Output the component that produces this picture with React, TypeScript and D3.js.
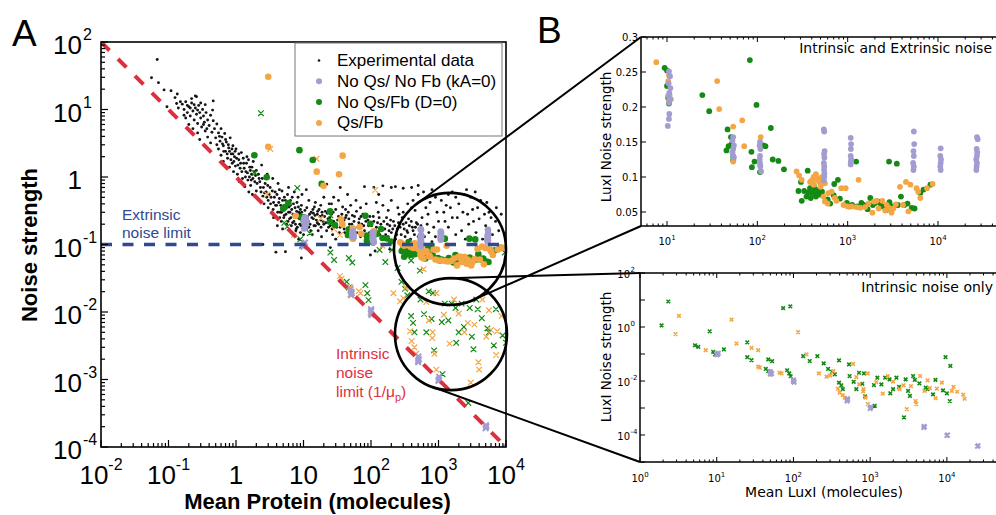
import React from "react";
import * as d3 from "d3";

type P = [number, number];

// ---------- DATA (mean, noise strength) ----------
const experimentalData: P[] = [
  [0.056, 29.5], [0.068, 55], [0.071, 25], [0.086, 19.5], [0.109, 19], [0.125, 15], [0.132, 12.3], [0.14, 10.5], [0.115, 8.5], [0.15, 13], [0.095, 11], [0.135, 17],
  [0.16, 12], [0.17, 10], [0.18, 13], [0.19, 9], [0.2, 11], [0.21, 8], [0.22, 12.5], [0.23, 9.5], [0.24, 7], [0.25, 10.5], [0.26, 8.5], [0.27, 6.2], [0.28, 11.5], [0.29, 9], [0.3, 7.5], [0.31, 5.5], [0.32, 10], [0.33, 8], [0.34, 6.5], [0.35, 4.8], [0.36, 9], [0.38, 7], [0.4, 5.8], [0.42, 8.2], [0.44, 4.6], [0.46, 6.8], [0.48, 5.2], [0.5, 3.8], [0.18, 7.5], [0.2, 6], [0.23, 5.2], [0.27, 4.5], [0.3, 12.5], [0.22, 14.5], [0.26, 15.5], [0.35, 11.8], [0.45, 9.8], [0.52, 6.1], [0.17, 8.2], [0.38, 3.9], [0.42, 3.2], [0.29, 3.6], [0.25, 15.9], [0.46, 13.4], [0.21, 10.5], [0.24, 11.8], [0.27, 9.8], [0.33, 6], [0.37, 5.2], [0.19, 11.5],
  [0.55, 4.5], [0.55, 2.6], [0.58, 3.4], [0.6, 5.2], [0.6, 2.1], [0.62, 3.9], [0.65, 2.9], [0.65, 1.7], [0.68, 4.4], [0.7, 2.4], [0.72, 3.3], [0.75, 1.9], [0.78, 2.7], [0.8, 1.4], [0.82, 3.8], [0.85, 2.2], [0.88, 1.6], [0.9, 2.9], [0.92, 1.2], [0.95, 2.0], [0.98, 1.45], [1.0, 2.6], [1.05, 1.1], [1.1, 1.8], [1.12, 0.85], [1.15, 1.35], [1.2, 2.3], [1.25, 0.95], [1.3, 1.6], [1.35, 0.72], [1.4, 1.2], [1.45, 2.0], [1.5, 0.9], [1.55, 0.6], [1.6, 1.4], [1.65, 0.75], [1.7, 1.1], [1.75, 0.55], [1.8, 1.7], [1.9, 0.85], [2.0, 0.62], [2.0, 1.25], [2.1, 0.48], [2.2, 0.95], [2.3, 0.7], [2.4, 1.5], [2.5, 0.52], [2.6, 0.4], [2.7, 0.8], [2.8, 0.6], [2.9, 1.1], [3.0, 0.45], [3.0, 0.35],
  [0.52, 3.0], [0.57, 4.0], [0.63, 3.1], [0.66, 2.4], [0.7, 3.6], [0.74, 2.2], [0.77, 3.0], [0.8, 2.4], [0.84, 1.8], [0.87, 2.6], [0.9, 2.2], [0.93, 1.7], [0.97, 2.4], [1.02, 1.9], [1.07, 1.5], [1.1, 2.2], [1.17, 1.6], [1.22, 1.2], [1.28, 1.9], [1.32, 1.35], [1.38, 1.0], [1.43, 1.6], [1.48, 1.15], [1.53, 1.8], [1.58, 1.0], [1.63, 1.25], [1.68, 0.9], [1.72, 1.4], [1.78, 0.95], [1.85, 1.2], [1.95, 1.05], [2.05, 0.8], [2.15, 1.1], [2.25, 0.85], [2.35, 0.6], [2.45, 0.95], [2.55, 0.7], [2.65, 0.58], [2.75, 0.95], [2.85, 0.5], [2.95, 0.75],
  [3.2, 0.7], [3.3, 0.5], [3.4, 0.3], [3.5, 0.95], [3.6, 0.42], [3.8, 0.6], [3.9, 0.26], [4.0, 0.38], [4.2, 0.8], [4.4, 0.48], [4.5, 0.3], [4.7, 0.22], [4.8, 0.62], [5.0, 0.36], [5.2, 0.27], [5.4, 0.45], [5.6, 0.2], [5.8, 0.55], [6.0, 0.3], [6.2, 0.24], [6.4, 0.38], [3.6, 0.25], [4.1, 0.19], [4.9, 0.17],
  [3.1, 0.55], [3.25, 0.4], [3.45, 0.62], [3.55, 0.33], [3.7, 0.5], [3.85, 0.38], [4.05, 0.55], [4.15, 0.3], [4.3, 0.42], [4.45, 0.25], [4.6, 0.38], [4.75, 0.3], [4.9, 0.45], [5.1, 0.25], [5.3, 0.33], [5.5, 0.28], [5.7, 0.38], [5.9, 0.22], [6.1, 0.36], [6.3, 0.3], [6.5, 0.25], [6.7, 0.33], [6.9, 0.21], [7.1, 0.4], [7.4, 0.26], [7.6, 0.2], [7.9, 0.31], [8.1, 0.18], [8.4, 0.36], [8.7, 0.24], [8.9, 0.28], [9.2, 0.19], [9.4, 0.3], [9.8, 0.24], [5.2, 0.5], [6.4, 0.45], [8.3, 0.5], [4.4, 0.65], [7.7, 0.16],
  [6.6, 0.19], [6.8, 0.5], [7.0, 0.28], [7.2, 0.22], [7.5, 0.35], [7.8, 0.17], [8.0, 0.42], [8.2, 0.25], [8.5, 0.3], [8.8, 0.2], [9.0, 0.15], [9.3, 0.38], [9.6, 0.27], [10, 0.22], [10.5, 0.32], [11, 0.17], [11.5, 0.26], [12, 0.45], [12.5, 0.2], [13, 0.3], [13.5, 0.14], [14, 0.24], [14.5, 0.36], [15, 0.19], [16, 0.28], [16.5, 0.16], [17, 0.33], [18, 0.23], [18.5, 0.13], [19, 0.27], [20, 0.2], [7.3, 0.6], [9.5, 0.55], [11, 0.65], [6.0, 0.7], [8.5, 0.12], [10, 0.14], [12, 0.18], [14, 0.29], [16, 0.21], [9, 0.33], [7, 0.14],
  [10.3, 0.27], [10.8, 0.2], [11.2, 0.35], [11.8, 0.22], [12.3, 0.28], [12.8, 0.16], [13.3, 0.25], [13.8, 0.33], [14.3, 0.19], [14.8, 0.27], [15.5, 0.23], [16.2, 0.31], [16.8, 0.2], [17.5, 0.26], [18.2, 0.18], [18.8, 0.3], [19.5, 0.22], [20.5, 0.26], [21.5, 0.21], [22.5, 0.29], [23.5, 0.18], [24.5, 0.25], [25.5, 0.22], [26.5, 0.17], [27.5, 0.3], [29, 0.2], [32, 0.23], [35, 0.18], [37, 0.28], [39, 0.2], [41, 0.15], [43, 0.27], [47, 0.24], [52, 0.2], [57, 0.26], [62, 0.15], [66, 0.21], [71, 0.26], [78, 0.19], [82, 0.25], [90, 0.23], [95, 0.15], [15, 0.42], [18, 0.38], [26, 0.4], [33, 0.45], [50, 0.38], [70, 0.35], [42, 0.33], [20, 0.5],
  [21, 0.31], [22, 0.16], [23, 0.24], [24, 0.4], [25, 0.19], [26, 0.28], [27, 0.14], [28, 0.22], [30, 0.33], [31, 0.18], [33, 0.26], [34, 0.15], [36, 0.21], [38, 0.36], [40, 0.17], [42, 0.25], [44, 0.13], [46, 0.3], [48, 0.2], [50, 0.16], [53, 0.27], [56, 0.22], [58, 0.14], [61, 0.31], [64, 0.18], [67, 0.24], [70, 0.13], [73, 0.2], [76, 0.28], [80, 0.16], [84, 0.22], [88, 0.12], [92, 0.19], [96, 0.26], [28, 0.5], [45, 0.55], [60, 0.45], [35, 0.7], [85, 0.4], [22, 0.78], [25, 0.09], [30, 0.12], [40, 0.23], [55, 0.18],
  [105, 0.15], [110, 0.22], [115, 0.13], [120, 0.18], [128, 0.3], [135, 0.14], [140, 0.2], [150, 0.12], [160, 0.17], [170, 0.25], [180, 0.13], [190, 0.19], [200, 0.15], [215, 0.22], [230, 0.12], [245, 0.17], [260, 0.28], [280, 0.14], [300, 0.2], [320, 0.13], [340, 0.16], [360, 0.24], [385, 0.12], [410, 0.18], [440, 0.14], [470, 0.21], [500, 0.13], [530, 0.16], [570, 0.25], [150, 0.38], [200, 0.45], [130, 0.55], [250, 0.35], [350, 0.4], [450, 0.32], [80, 0.72], [110, 0.7], [150, 0.74], [200, 0.7], [230, 0.72], [300, 0.68], [400, 0.7], [115, 0.08], [190, 0.085], [98, 0.07],
  [102, 0.19], [108, 0.26], [118, 0.16], [125, 0.21], [132, 0.25], [145, 0.17], [155, 0.22], [165, 0.14], [175, 0.2], [185, 0.16], [195, 0.23], [210, 0.17], [225, 0.19], [240, 0.14], [255, 0.21], [270, 0.18], [290, 0.25], [310, 0.17], [330, 0.21], [350, 0.15], [370, 0.19], [395, 0.22], [420, 0.16], [455, 0.18], [490, 0.2], [520, 0.14], [550, 0.19], [300, 0.3], [180, 0.32], [120, 0.42], [400, 0.35],
  [620, 0.13], [680, 0.2], [720, 0.15], [800, 0.11], [850, 0.18], [900, 0.13], [1000, 0.22], [1100, 0.14], [1200, 0.3], [1300, 0.12], [1400, 0.18], [1600, 0.25], [1800, 0.14], [2000, 0.4], [2200, 0.16], [2500, 0.12], [2800, 0.2], [3200, 0.33], [3600, 0.15], [4000, 0.24], [4500, 0.12], [5000, 0.19], [5600, 0.3], [6300, 0.14], [7000, 0.22], [7800, 0.16], [650, 0.35], [900, 0.5], [1100, 0.45], [1600, 0.6], [2400, 0.55], [3000, 0.5], [750, 0.42], [4200, 0.45], [600, 0.6], [500, 0.55], [420, 0.45], [1300, 0.38],
  [700, 0.28], [950, 0.3], [1250, 0.22], [1500, 0.35], [1900, 0.25], [2300, 0.3], [2700, 0.28], [3300, 0.22], [3800, 0.35], [4800, 0.28], [5200, 0.42], [6000, 0.25], [7200, 0.35], [8500, 0.28], [800, 0.65], [1400, 0.55], [2600, 0.65], [3500, 0.6], [500, 0.75], [1800, 0.5],
  [2.5, 0.1], [3.9, 0.077], [5.4, 0.078], [9.3, 0.063],
];

const noQsNoFbExtrinsic: P[] = [
  [10.5, 0.251], [10.8, 0.244], [10.4, 0.234], [10.9, 0.227], [10.6, 0.22], [10.3, 0.216], [11, 0.211], [10.5, 0.206], [10.6, 0.19], [10.5, 0.183], [10.2, 0.173],
  [54, 0.157], [53, 0.152], [55, 0.145], [54, 0.14], [53, 0.135], [54, 0.13], [55, 0.128],
  [107, 0.15], [106, 0.145], [108, 0.14], [107, 0.13], [106, 0.125], [107, 0.12], [108, 0.115], [110, 0.108],
  [545, 0.168], [550, 0.165], [555, 0.137], [548, 0.133], [552, 0.128], [545, 0.12], [550, 0.115], [548, 0.11], [553, 0.105], [550, 0.1], [545, 0.095],
  [1080, 0.156], [1090, 0.147], [1085, 0.14], [1080, 0.13], [1095, 0.125], [1085, 0.122], [1080, 0.118],
  [5400, 0.165], [5450, 0.147], [5350, 0.137], [5400, 0.13], [5300, 0.12], [5400, 0.115], [5350, 0.11],
  [10700, 0.141], [10600, 0.13], [10800, 0.125], [10700, 0.12], [10600, 0.115], [10700, 0.11],
  [27000, 0.157], [27500, 0.154], [26800, 0.14], [27200, 0.135], [27000, 0.13], [26500, 0.125], [27000, 0.12], [26800, 0.115], [26600, 0.11],
];

const noQsFbExtrinsic: P[] = [
  [9.4, 0.256], [10, 0.252], [10, 0.23], [10.3, 0.213], [10.5, 0.205], [24.6, 0.217], [29.3, 0.194], [82.6, 0.267], [97.8, 0.203], [141, 0.17], [46.8, 0.168], [51, 0.157], [45.5, 0.138], [48, 0.144], [51.8, 0.147], [54, 0.129], [54, 0.124], [86, 0.136], [87, 0.114], [93, 0.122], [107, 0.107], [116, 0.145], [123, 0.144], [148, 0.125], [171, 0.123], [197, 0.111],
  [361, 0.109], [304, 0.093], [285, 0.08], [310, 0.066], [350, 0.072], [383, 0.084], [410, 0.077], [430, 0.083], [445, 0.072], [468, 0.081], [520, 0.079], [780, 0.096], [710, 0.09], [700, 0.074], [820, 0.069], [980, 0.063], [1120, 0.06], [1240, 0.122], [1270, 0.058], [1420, 0.063], [1660, 0.054], [1780, 0.07], [1900, 0.06], [2150, 0.065], [2410, 0.058], [2680, 0.053], [2870, 0.122], [2900, 0.064], [3220, 0.058], [3500, 0.119], [3890, 0.072], [4230, 0.06], [5120, 0.056], [6370, 0.077], [6920, 0.082], [8240, 0.089],
  [330, 0.08], [370, 0.078], [390, 0.07], [420, 0.088], [455, 0.076], [490, 0.075], [600, 0.068], [640, 0.062], [1050, 0.058], [1500, 0.06], [2000, 0.063], [2300, 0.062], [3000, 0.058], [3600, 0.06], [4600, 0.062], [5500, 0.055],
  [1.87, 2.1], [2.85, 0.99], [5.96, 0.41], [5.3, 0.36], [8.7, 2.5], [13.7, 1.79], [18.6, 0.79], [24.7, 0.31], [5.0, 0.34],
];

const qsFbExtrinsic: P[] = [
  [7.6, 0.264], [10.3, 0.237], [10.5, 0.245], [10.7, 0.216], [10.5, 0.209], [35.9, 0.237], [37.8, 0.197], [54, 0.172], [68, 0.181], [71.5, 0.144], [54, 0.122], [109, 0.157], [107, 0.117],
  [272, 0.108], [290, 0.102], [310, 0.096], [384, 0.093], [420, 0.1], [445, 0.104], [455, 0.096], [485, 0.093], [520, 0.1], [500, 0.086], [560, 0.091], [420, 0.089], [540, 0.072], [560, 0.065], [610, 0.077], [665, 0.079], [720, 0.07], [850, 0.084], [950, 0.084], [1110, 0.058], [1320, 0.096], [1380, 0.056], [1560, 0.057], [1880, 0.049], [1960, 0.065], [2090, 0.066], [2420, 0.066], [2700, 0.06], [3010, 0.053], [3060, 0.049], [3420, 0.061], [3790, 0.086], [4420, 0.093], [4700, 0.051], [4950, 0.089], [5790, 0.084], [6030, 0.079], [6380, 0.07], [7570, 0.084], [8710, 0.09],
  [400, 0.095], [470, 0.098], [510, 0.09], [600, 0.062], [750, 0.066], [900, 0.06], [1000, 0.058], [1250, 0.057], [1700, 0.062], [2200, 0.055], [2600, 0.052], [2800, 0.057], [3200, 0.055], [4100, 0.06],
  [3.0, 30.6], [3.0, 2.8], [38, 2.07], [15.7, 1.2], [33.6, 1.1], [19.8, 0.74],
];

const noQsNoFbIntrinsic: P[] = [
  [10, 0.093], [10, 0.1], [10.5, 0.107], [10.3, 0.097],
  [50, 0.018], [51, 0.02], [50, 0.022], [52, 0.019],
  [100, 0.0095], [101, 0.0105], [102, 0.009], [100, 0.011],
  [500, 0.0019], [510, 0.002], [505, 0.0022], [500, 0.0018],
  [1000, 0.00095], [1010, 0.001], [1020, 0.0011],
  [5000, 0.00019], [5100, 0.0002], [5050, 0.00021],
  [10000, 0.000095], [10200, 0.0001],
  [25000, 0.000038], [25500, 0.00004],
];

const noQsFbIntrinsic: P[] = [
  [1.91, 1.15], [2.34, 8.8], [8.1, 0.69], [5.2, 0.21], [5.75, 0.184], [9.0, 0.12], [9.5, 0.096], [12.4, 0.147], [25, 0.27], [25, 0.076], [28.4, 0.059], [47, 0.063], [52.8, 0.054], [43.6, 0.028], [47, 0.023], [73.4, 5.0], [91, 5.8], [82.7, 0.025], [88, 0.019], [92, 0.015],
  [134, 0.083], [163, 0.055], [205, 0.083], [248, 0.045], [283, 0.028], [320, 0.022], [346, 0.0177], [393, 0.058], [393, 0.0087], [420, 0.0069], [440, 0.005], [530, 0.041], [540, 0.0153], [610, 0.0093], [660, 0.005], [715, 0.0202], [790, 0.0079], [830, 0.0191], [860, 0.0027],
  [1146, 0.0012], [1120, 0.0071], [1240, 0.0133], [1400, 0.0075], [1570, 0.0133], [1790, 0.0115], [1830, 0.0035], [1990, 0.005], [2200, 0.0133], [2380, 0.006], [2760, 0.00045], [2900, 0.0115], [3120, 0.0043], [3300, 0.0028], [3630, 0.0153], [3820, 0.011], [4380, 0.0081], [5300, 0.0057], [5600, 0.005], [6600, 0.0032], [7100, 0.011], [8900, 0.0045], [9600, 0.076], [10000, 0.0035], [10900, 0.0018], [11100, 0.036],
];

const qsFbIntrinsic: P[] = [
  [2.91, 0.55], [3.22, 2.6], [7.2, 0.138], [15.6, 1.86], [18.1, 0.244], [28.4, 0.169], [34.7, 0.138], [34.7, 0.034], [36.5, 0.031], [49.2, 0.0233], [51.5, 0.0176], [66, 0.0203], [70, 0.019], [99, 0.01], [115, 0.64], [148, 0.096],
  [215, 0.019], [270, 0.0144], [302, 0.016], [330, 0.023], [380, 0.0052], [400, 0.0037], [440, 0.003], [465, 0.0024], [600, 0.043], [660, 0.014], [720, 0.0075], [820, 0.005], [870, 0.0024], [930, 0.0014], [810, 0.0041], [930, 0.019],
  [1200, 0.0091], [1460, 0.0034], [1700, 0.0153], [1990, 0.0095], [2420, 0.005], [2720, 0.0069], [3000, 0.0009], [3400, 0.0065], [3900, 0.0018], [4000, 0.0014], [4470, 0.0153], [5100, 0.0043], [5600, 0.0106], [6000, 0.0054], [7130, 0.0023], [7400, 0.0052], [8600, 0.0087], [11600, 0.0043], [12200, 0.006], [13600, 0.004], [16300, 0.0031], [17000, 0.0022],
];

const aXTicks = [1e-2, 1e-1, 1, 10, 100, 1e3, 1e4];
const aXTickLabels: [string, string][] = [["10", "-2"], ["10", "-1"], ["1", ""], ["10", ""], ["10", "2"], ["10", "3"], ["10", "4"]];
const aYTicks = [1e2, 10, 1, 0.1, 0.01, 1e-3, 1e-4];
const aYTickLabels: [string, string][] = [["10", "2"], ["10", "1"], ["1", ""], ["10", "-1"], ["10", "-2"], ["10", "-3"], ["10", "-4"]];
const btXTicks = [10, 100, 1e3, 1e4];
const btXTickSup = ["1", "2", "3", "4"];
const btYTicks = [0.05, 0.1, 0.15, 0.2, 0.25, 0.3];
const btYTickLabels = ["0.05", "0.1", "0.15", "0.2", "0.25", "0.3"];
const bbXTicks = [1, 10, 100, 1e3, 1e4];
const bbXTickSup = ["0", "1", "2", "3", "4"];
const bbYTicks = [1e-4, 1e-2, 1, 100];
const bbYTickSup = ["-4", "-2", "0", "2"];
const legendLabels = ["Experimental data", "No Qs/ No Fb (kA=0)", "No Qs/Fb (D=0)", "Qs/Fb"];
const extrinsicLimit = 0.1;
const upperZoomCenter: P = [1480, 0.086];
const lowerZoomCenter: P = [1530, 0.0047];

// ---------- STYLE ----------
const LAV = "#a29dd0";
const GRN = "#148a14";
const ORG = "#f4a645";
const RED = "#df2f3d";
const BLUE = "#2f4a8e";
const fontA = "'Liberation Sans', Arial, Helvetica, sans-serif";
const fontB = "'DejaVu Sans', sans-serif";

const A = { l: 101, r: 506, t: 42, b: 447 };
const BT = { l: 641, r: 997, t: 37, b: 226 };
const BB = { l: 640, r: 997, t: 273, b: 462 };

const xA = d3.scaleLog().domain([1e-2, 1e4]).range([A.l, A.r]);
const yA = d3.scaleLog().domain([1e-4, 1e2]).range([A.b, A.t]);
const xBT = d3.scaleLog().domain([5.15, 45000]).range([BT.l, BT.r]);
const yBT = d3.scaleLinear().domain([0.03, 0.3]).range([BT.b, BT.t]);
const xBB = d3.scaleLog().domain([1, 45000]).range([BB.l, BB.r]);
const yBB = d3.scaleLog().domain([1e-5, 1e2]).range([BB.b, BB.t]);

function minorTicks(lo: number, hi: number) {
  const out: number[] = [];
  const e0 = Math.floor(Math.log10(lo));
  const e1 = Math.ceil(Math.log10(hi));
  for (let e = e0; e < e1; e++) for (let k = 2; k <= 9; k++) {
    const v = k * Math.pow(10, e);
    if (v > lo && v < hi) out.push(v);
  }
  return out;
}
function decadeTicks(lo: number, hi: number) {
  const out: number[] = [];
  for (let e = Math.ceil(Math.log10(lo) - 1e-9); e <= Math.floor(Math.log10(hi) + 1e-9); e++) out.push(Math.pow(10, e));
  return out;
}
function crossPath(x: number, y: number, s: number) {
  return `M${x - s},${y - s}L${x + s},${y + s}M${x - s},${y + s}L${x + s},${y - s}`;
}
function tangent(px: number, py: number, cx: number, cy: number, r: number, side: number): P {
  const a = Math.atan2(py - cy, px - cx);
  const d = Math.hypot(px - cx, py - cy);
  const t = a + side * Math.acos(r / d);
  return [cx + r * Math.cos(t), cy + r * Math.sin(t)];
}

const Crosses = ({ data, xs, ys, color, s, w }: any) => (
  <path d={data.map((p: P) => crossPath(xs(p[0]), ys(p[1]), s)).join("")} stroke={color} strokeWidth={w} fill="none" />
);
const Dots = ({ data, xs, ys, color, r }: any) => (
  <g fill={color}>
    {data.map((p: P, i: number) => <circle key={i} cx={xs(p[0])} cy={ys(p[1])} r={r} />)}
  </g>
);

export default function App() {
  const R = 56;
  const uc: P = [xA(upperZoomCenter[0]), yA(upperZoomCenter[1])];
  const lc: P = [xA(lowerZoomCenter[0]), yA(lowerZoomCenter[1])];
  const t1 = tangent(BT.l, BT.t, uc[0], uc[1], R, -1);
  const t2 = tangent(BT.l, BT.b, uc[0], uc[1], R, 1);
  const t3 = tangent(BB.l, BB.t, lc[0], lc[1], R, -1);
  const t4 = tangent(BB.l, BB.b, lc[0], lc[1], R, 1);

  const aMinorX = minorTicks(1e-2, 1e4);
  const aMinorY = minorTicks(1e-4, 1e2);
  const btMajorX = decadeTicks(5.15, 45000);
  const btMinorX = minorTicks(5.15, 45000);
  const bbMajorX = decadeTicks(1, 45000);
  const bbMinorX = minorTicks(1, 45000);
  const bbMajorY = decadeTicks(1e-5, 1e2);

  return (
    <svg width={996} height={515} style={{ position: "absolute", left: 0, top: 0, background: "#fff" }}>
      <defs>
        <clipPath id="clipA"><rect x={A.l} y={A.t} width={A.r - A.l} height={A.b - A.t} /></clipPath>
        <clipPath id="clipBT"><rect x={BT.l} y={BT.t} width={BT.r - BT.l} height={BT.b - BT.t} /></clipPath>
        <clipPath id="clipBB"><rect x={BB.l} y={BB.t} width={BB.r - BB.l} height={BB.b - BB.t} /></clipPath>
      </defs>

      {/* ================= PANEL A ================= */}
      <text x={12} y={46} fontFamily={fontA} fontSize={37}>A</text>
      <g clipPath="url(#clipA)">
        <Dots data={experimentalData} xs={xA} ys={yA} color="#151515" r={1.45} />
        <Crosses data={noQsFbIntrinsic} xs={xA} ys={yA} color={GRN} s={2.8} w={1.2} />
        <Crosses data={qsFbIntrinsic} xs={xA} ys={yA} color={ORG} s={2.8} w={1.2} />
        <Crosses data={noQsNoFbIntrinsic} xs={xA} ys={yA} color={LAV} s={2.8} w={2} />
        <Dots data={noQsFbExtrinsic} xs={xA} ys={yA} color={GRN} r={3.3} />
        <Dots data={qsFbExtrinsic} xs={xA} ys={yA} color={ORG} r={3.3} />
        <Dots data={noQsNoFbExtrinsic} xs={xA} ys={yA} color={LAV} r={3.3} />
        <line x1={xA(1e-2)} y1={yA(1 / 1e-2)} x2={xA(1e4)} y2={yA(1 / 1e4)} stroke={RED} strokeWidth={4} strokeDasharray="12 12" />
        <line x1={xA(1e-2)} y1={yA(extrinsicLimit)} x2={xA(1e4)} y2={yA(extrinsicLimit)} stroke={BLUE} strokeWidth={3.5} strokeDasharray="11 10.5" />
      </g>
      <rect x={A.l} y={A.t} width={A.r - A.l} height={A.b - A.t} fill="none" stroke="#000" strokeWidth={1.6} />
      <g stroke="#000" strokeWidth={1.2}>
        {aXTicks.map((v, i) => <line key={"mx" + i} x1={xA(v)} x2={xA(v)} y1={A.b} y2={A.b - 7} />)}
        {aMinorX.map((v, i) => <line key={"nx" + i} x1={xA(v)} x2={xA(v)} y1={A.b} y2={A.b - 4} />)}
        {aYTicks.map((v, i) => <line key={"my" + i} x1={A.l} x2={A.l + 7} y1={yA(v)} y2={yA(v)} />)}
        {aMinorY.map((v, i) => <line key={"ny" + i} x1={A.l} x2={A.l + 4} y1={yA(v)} y2={yA(v)} />)}
      </g>
      <g fontFamily={fontA} fill="#000">
        {aXTicks.map((v, i) => (
          <text key={"xl" + i} x={xA(v)} y={484} fontSize={26} textAnchor="middle">
            {aXTickLabels[i][0]}
            {aXTickLabels[i][1] && <tspan fontSize={16} dy={-14}>{aXTickLabels[i][1]}</tspan>}
          </text>
        ))}
        {aYTicks.map((v, i) => (
          <g key={"yl" + i}>
            <text x={82} y={yA(v) + 12} fontSize={26} textAnchor="end">{aYTickLabels[i][0]}</text>
            {aYTickLabels[i][1] && <text x={83} y={yA(v) - 2} fontSize={16}>{aYTickLabels[i][1]}</text>}
          </g>
        ))}
        <text x={(A.l + A.r) / 2 + 14} y={509} fontSize={22} fontWeight="bold" textAnchor="middle">Mean Protein (molecules)</text>
        <text transform={`translate(37,245) rotate(-90)`} fontSize={22} fontWeight="bold" textAnchor="middle">Noise strength</text>
        <text x={122} y={220} fontSize={15.5} fill={BLUE}>Extrinsic</text>
        <text x={122} y={237.5} fontSize={15.5} fill={BLUE}>noise limit</text>
        <text x={336} y={359} fontSize={15.5} fill={RED}>Intrinsic</text>
        <text x={336} y={378} fontSize={15.5} fill={RED}>noise</text>
        <text x={336} y={397} fontSize={15.5} fill={RED}>limit (1/μ<tspan fontSize={11} dy={4}>p</tspan><tspan dy={-4}>)</tspan></text>
      </g>

      {/* legend */}
      <g>
        <rect x={295} y={43} width={207} height={93} fill="#fff" stroke="#777" strokeWidth={1} />
        {legendLabels.map((lab, i) => {
          const by = 66 + i * 20.8;
          const col = ["#151515", LAV, GRN, ORG][i];
          return (
            <g key={"lg" + i}>
              <circle cx={319} cy={by - 5.5} r={i === 0 ? 1.3 : 3} fill={col} />
              <text x={337} y={by} fontFamily={fontA} fontSize={17}>{lab}</text>
            </g>
          );
        })}
      </g>

      {/* zoom circles and connectors */}
      <g fill="none" stroke="#000" strokeWidth={2.6}>
        <circle cx={uc[0]} cy={uc[1]} r={R} />
        <circle cx={lc[0]} cy={lc[1]} r={R} />
        <line x1={t1[0]} y1={t1[1]} x2={BT.l} y2={BT.t} strokeWidth={2} />
        <line x1={t2[0]} y1={t2[1]} x2={BT.l} y2={BT.b} strokeWidth={2} />
        <line x1={t3[0]} y1={t3[1]} x2={BB.l} y2={BB.t} strokeWidth={2} />
        <line x1={t4[0]} y1={t4[1]} x2={BB.l} y2={BB.b} strokeWidth={2} />
      </g>

      {/* ================= PANEL B ================= */}
      <text x={537} y={43} fontFamily={fontA} fontSize={37}>B</text>

      {/* top: extrinsic + intrinsic */}
      <g clipPath="url(#clipBT)">
        <Dots data={noQsFbExtrinsic} xs={xBT} ys={yBT} color={GRN} r={2.9} />
        <Dots data={qsFbExtrinsic} xs={xBT} ys={yBT} color={ORG} r={2.9} />
        <Dots data={noQsNoFbExtrinsic} xs={xBT} ys={yBT} color={LAV} r={2.9} />
      </g>
      <g stroke="#000" strokeWidth={1.5} fill="none">
        <line x1={BT.l} x2={BT.r} y1={BT.t} y2={BT.t} />
        <line x1={BT.l} x2={BT.r} y1={BT.b} y2={BT.b} />
        <line x1={BT.l} x2={BT.l} y1={BT.t} y2={BT.b} />
      </g>
      <g stroke="#000" strokeWidth={1}>
        {btMajorX.map((v, i) => <g key={"btm" + i}><line x1={xBT(v)} x2={xBT(v)} y1={BT.b} y2={BT.b - 5} /><line x1={xBT(v)} x2={xBT(v)} y1={BT.t} y2={BT.t + 5} /></g>)}
        {btMinorX.map((v, i) => <g key={"btn" + i}><line x1={xBT(v)} x2={xBT(v)} y1={BT.b} y2={BT.b - 2.5} /><line x1={xBT(v)} x2={xBT(v)} y1={BT.t} y2={BT.t + 2.5} /></g>)}
        {btYTicks.map((v, i) => <line key={"bty" + i} x1={BT.l} x2={BT.l + 5} y1={yBT(v)} y2={yBT(v)} />)}
      </g>
      <g fontFamily={fontB} fill="#000" fontSize={10}>
        {btXTicks.map((v, i) => (
          <text key={"btxl" + i} x={xBT(v)} y={245} textAnchor="middle">10<tspan fontSize={7} dy={-5}>{btXTickSup[i]}</tspan></text>
        ))}
        {btYTicks.map((v, i) => (
          <text key={"btyl" + i} x={638} y={yBT(v) + 3.5} textAnchor="end">{btYTickLabels[i]}</text>
        ))}
        <text transform="translate(611,137) rotate(-90)" fontSize={13.5} textAnchor="middle">LuxI Noise strength</text>
        <text x={992} y={53} fontSize={14} textAnchor="end">Intrinsic and Extrinsic noise</text>
      </g>

      {/* bottom: intrinsic only */}
      <g clipPath="url(#clipBB)">
        <Crosses data={noQsFbIntrinsic} xs={xBB} ys={yBB} color={GRN} s={1.8} w={1.6} />
        <Crosses data={qsFbIntrinsic} xs={xBB} ys={yBB} color={ORG} s={1.8} w={1.6} />
        <Crosses data={noQsNoFbIntrinsic} xs={xBB} ys={yBB} color={LAV} s={2.2} w={2} />
      </g>
      <g stroke="#000" strokeWidth={1.5} fill="none">
        <line x1={BB.l} x2={BB.r} y1={BB.t} y2={BB.t} />
        <line x1={BB.l} x2={BB.r} y1={BB.b} y2={BB.b} />
        <line x1={BB.l} x2={BB.l} y1={BB.t} y2={BB.b} />
      </g>
      <g stroke="#000" strokeWidth={1}>
        {bbMajorX.map((v, i) => <g key={"bbm" + i}><line x1={xBB(v)} x2={xBB(v)} y1={BB.b} y2={BB.b - 5} /><line x1={xBB(v)} x2={xBB(v)} y1={BB.t} y2={BB.t + 5} /></g>)}
        {bbMinorX.map((v, i) => <g key={"bbn" + i}><line x1={xBB(v)} x2={xBB(v)} y1={BB.b} y2={BB.b - 2.5} /><line x1={xBB(v)} x2={xBB(v)} y1={BB.t} y2={BB.t + 2.5} /></g>)}
        {bbMajorY.map((v, i) => <line key={"bby" + i} x1={BB.l} x2={BB.l + 5} y1={yBB(v)} y2={yBB(v)} />)}
      </g>
      <g fontFamily={fontB} fill="#000" fontSize={10}>
        {bbXTicks.map((v, i) => (
          <text key={"bbxl" + i} x={xBB(v)} y={482} textAnchor="middle">10<tspan fontSize={7} dy={-5}>{bbXTickSup[i]}</tspan></text>
        ))}
        {bbYTicks.map((v, i) => (
          <g key={"bbyl" + i}>
            <text x={630} y={yBB(v) + 4.5} textAnchor="end">10</text>
            <text x={630.5} y={yBB(v) - 1} fontSize={7}>{bbYTickSup[i]}</text>
          </g>
        ))}
        <text transform="translate(611,357) rotate(-90)" fontSize={13.5} textAnchor="middle">LuxI Noise strength</text>
        <text x={993} y={292} fontSize={14} textAnchor="end">Intrinsic noise only</text>
        <text x={824} y={497} fontSize={14} textAnchor="middle">Mean LuxI (molecules)</text>
      </g>
    </svg>
  );
}
